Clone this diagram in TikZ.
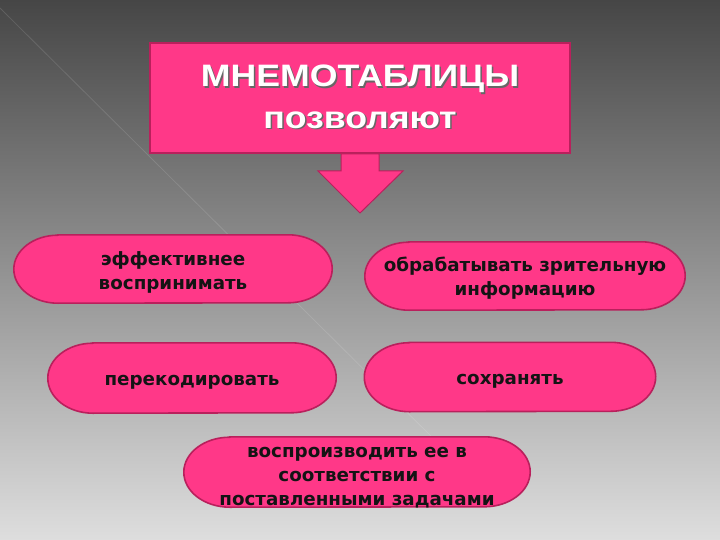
\documentclass[tikz,border=0pt]{standalone}
\usepackage{fontspec}
\setmainfont{DejaVu Sans}
\newfontfamily\headfont{Liberation Sans}
\definecolor{pinkfill}{RGB}{255,56,136}
\definecolor{pinkedge}{RGB}{185,32,92}
\definecolor{bgtop}{RGB}{70,70,70}
\definecolor{bgbot}{RGB}{222,222,222}
\newcommand{\pillpath}[3]{% node name, x radius, y radius
  \filldraw[pilldraw] ([xshift=#2]#1.north west) -- ([xshift=-#2]#1.north east)
    arc[start angle=90, end angle=-90, x radius=#2, y radius=#3]
    -- ([xshift=#2]#1.south west)
    arc[start angle=270, end angle=90, x radius=#2, y radius=#3] -- cycle;}
\begin{document}
\begin{tikzpicture}[x=1pt,y=-1pt,
  pill/.style={rectangle, inner sep=0pt},
  pilldraw/.style={draw=pinkedge, line width=1.6pt, fill=pinkfill},
  bodytext/.style={align=center, font=\bfseries\fontsize{18.3}{24}\selectfont, text=black!92},
  headtext/.style={font=\headfont\bfseries\fontsize{31}{34}\selectfont, text=white, xscale=1.15},
  headshadow/.style={font=\headfont\bfseries\fontsize{31}{34}\selectfont, text=black!60, xscale=1.15},
  topbox/.style={draw=pinkedge, line width=1.2pt, fill=pinkfill, minimum width=420pt, minimum height=110pt, inner sep=0pt}
]
\useasboundingbox (0,0) rectangle (720,540);
\shade[top color=bgtop, bottom color=bgbot] (0,0) rectangle (720,540);
\draw[white, opacity=0.12, line width=0.8pt] (0,8) -- (450,455);

% top box
\node[topbox] (top) at (360,98) {};
\node[headshadow] at (361.5,80.5) {МНЕМОТАБЛИЦЫ};
\node[headtext] (t1) at (360,79) {МНЕМОТАБЛИЦЫ};
\node[headshadow] at (361.5,121.5) {позволяют};
\node[headtext] (t2) at (360,120) {позволяют};

% block arrow
\coordinate (a1) at (341,154);
\coordinate (a2) at (379,154);
\coordinate (a3) at (379,171);
\coordinate (a4) at (403,171);
\coordinate (tip) at (360,213);
\coordinate (a6) at (318,171);
\coordinate (a7) at (341,171);
\filldraw[fill=pinkfill, draw=pinkedge, line width=1pt, line join=miter]
  (a1) -- (a2) -- (a3) -- (a4) -- (tip) -- (a6) -- (a7) -- cycle;

% pills
\node[pill, minimum width=318pt, minimum height=68pt] (p1) at (173,269) {};
\pillpath{p1}{44pt}{34pt}
\node[bodytext] at ([yshift=-3pt]p1.center) {эффективнее\\воспринимать};

\node[pill, minimum width=320pt, minimum height=68pt] (p2) at (525,276) {};
\pillpath{p2}{44pt}{34pt}
\node[bodytext] at ([yshift=-2pt]p2.center) {обрабатывать зрительную\\информацию};

\node[pill, minimum width=288pt, minimum height=70pt] (p3) at (192,378) {};
\pillpath{p3}{45pt}{35pt}
\node[bodytext] at ([yshift=-4pt]p3.center) {перекодировать};

\node[pill, minimum width=291pt, minimum height=69pt] (p4) at (510,377) {};
\pillpath{p4}{45pt}{34.5pt}
\node[bodytext] at ([yshift=-4pt]p4.center) {сохранять};

\node[pill, minimum width=346pt, minimum height=70pt] (p5) at (357,472) {};
\pillpath{p5}{46pt}{35pt}
\node[bodytext] at ([yshift=-6pt]p5.center) {воспроизводить ее в\\соответствии с\\поставленными задачами};
\end{tikzpicture}
\end{document}
